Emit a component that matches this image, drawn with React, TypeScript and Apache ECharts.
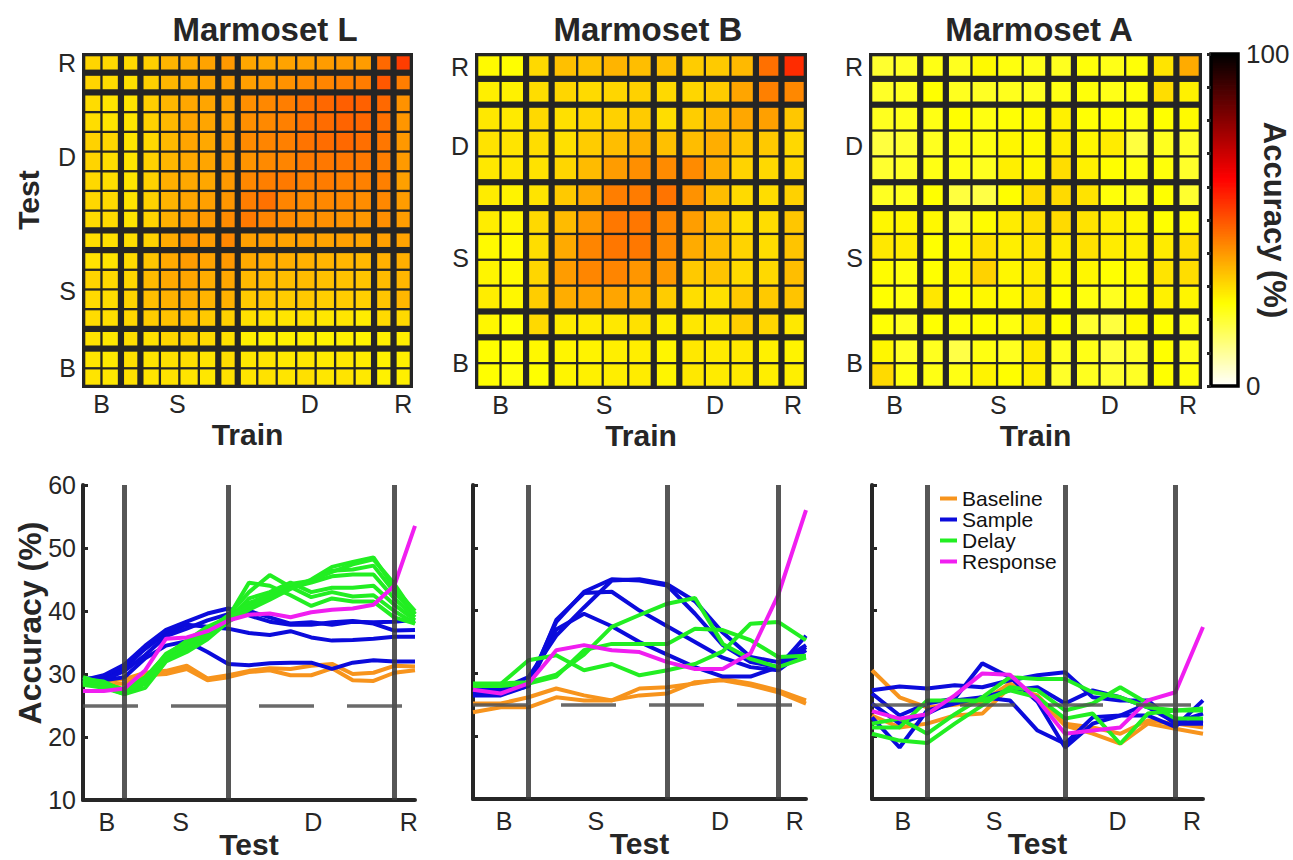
import React, { useEffect, useRef } from 'react';
import * as echarts from 'echarts';

// ---------- constants ----------
const FONT = '"Liberation Sans", Arial, Helvetica, sans-serif';
const INK = '#262626';
const HOT_COLORS = ['#ffffff', '#ffff80', '#ffff00', '#ffaa00', '#ff5500', '#ff0000', '#aa0000', '#550000', '#000000'];
const EPOCH_LABELS = ['B', 'S', 'D', 'R'];
const EPOCH_NAMES = ['Baseline', 'Sample', 'Delay', 'Response'];
const EPOCH_COLORS = ['#F7941D', '#0B0BDB', '#22EE22', '#F01EF0'];
const MONKEYS = ['Marmoset L', 'Marmoset B', 'Marmoset A'];
const CHANCE = 25;
const Y_MIN = 10;
const Y_MAX = 60;
const CBAR_MIN = 0;
const CBAR_MAX = 100;
const CBAR_STEP = 0.5;

const TRANS_L = [2, 7, 15];
const TRANS_BA = [2, 7, 11];
const HEAT_LABEL_POS_L = [0.5, 4.4, 11.2, 16];
const HEAT_LABEL_POS_BA = [0.5, 4.55, 8.9, 11.95];
const LINE_LABEL_POS_L = [1.15, 4.7, 11.1, 15.7];
const LINE_LABEL_POS_BA = [1.12, 4.43, 8.9, 11.6];

// ---------- data: accuracy (%) per train time (one array each), across test times ----------
// Marmoset L (17 time bins)
const L_B1 = [29.0, 28.8, 29.2, 30.2, 30.5, 31.3, 29.3, 29.8, 30.5, 30.9, 30.8, 31.3, 31.6, 30.0, 30.2, 31.3, 31.2];
const L_B2 = [28.5, 28.3, 28.5, 29.8, 30.0, 30.8, 29.0, 29.5, 30.3, 30.6, 29.8, 29.8, 30.9, 29.0, 28.9, 30.2, 30.6];
const L_T1 = [29.5, 29.5, 30.0, 31.0, 31.5, 31.0, 30.5, 30.0, 29.0, 29.0, 28.8, 28.8, 28.8, 28.8, 29.0, 29.5, 30.5];
const L_S1 = [28.8, 29.0, 29.5, 32.5, 34.5, 35.2, 33.5, 31.6, 31.4, 31.7, 31.8, 31.8, 30.8, 31.8, 32.2, 32.0, 32.0];
const L_S2 = [29.2, 29.5, 31.0, 34.0, 36.5, 37.8, 37.5, 37.2, 36.5, 36.2, 36.8, 35.8, 35.3, 35.4, 35.6, 35.9, 35.9];
const L_S3 = [29.0, 29.8, 31.5, 34.5, 37.0, 38.3, 39.6, 40.4, 39.3, 38.3, 37.8, 37.8, 38.2, 38.4, 38.0, 36.9, 37.0];
const L_S4 = [28.5, 29.0, 30.5, 33.0, 36.0, 37.2, 38.5, 39.5, 40.0, 39.0, 38.0, 38.2, 37.8, 38.3, 38.2, 38.3, 38.6];
const L_T2 = [29.5, 30.0, 29.5, 32.0, 36.5, 38.0, 40.0, 42.5, 42.0, 40.5, 40.0, 39.5, 39.5, 39.0, 39.0, 39.0, 40.0];
const L_D1 = [29.0, 28.5, 27.5, 29.5, 33.0, 35.3, 37.5, 39.0, 44.5, 44.0, 42.5, 40.8, 42.0, 41.5, 41.5, 39.0, 38.0];
const L_D2 = [29.2, 28.8, 27.2, 29.2, 33.2, 35.0, 37.0, 39.3, 43.0, 45.7, 43.8, 42.2, 43.0, 42.3, 42.5, 40.0, 38.0];
const L_D3 = [28.8, 28.2, 27.0, 28.8, 32.5, 34.5, 36.8, 38.5, 42.0, 43.0, 44.5, 43.0, 43.7, 43.7, 44.0, 41.0, 38.5];
const L_D4 = [29.5, 28.5, 27.5, 29.3, 33.0, 34.8, 36.5, 39.0, 41.2, 42.2, 43.7, 44.5, 45.5, 45.8, 45.8, 42.0, 39.0];
const L_D5 = [28.6, 28.0, 26.8, 28.5, 32.2, 34.2, 36.0, 38.6, 41.3, 42.5, 44.3, 44.8, 46.4, 46.6, 47.2, 43.0, 39.5];
const L_D6 = [29.0, 28.4, 27.2, 28.8, 32.5, 34.0, 35.8, 39.0, 40.7, 42.3, 43.6, 45.0, 47.0, 47.8, 48.5, 43.7, 40.0];
const L_D7 = [28.3, 27.8, 26.8, 27.8, 32.0, 33.5, 35.5, 38.3, 40.2, 41.8, 43.5, 44.8, 46.2, 47.4, 48.2, 44.3, 39.5];
const L_T3 = [27.0, 27.0, 27.5, 30.5, 33.5, 35.0, 36.6, 39.0, 41.5, 42.5, 43.7, 44.0, 45.0, 46.0, 47.0, 49.5, 47.0];
const L_R1 = [27.3, 27.3, 27.7, 30.6, 35.6, 35.8, 36.8, 38.5, 39.4, 39.6, 39.0, 39.8, 40.2, 40.4, 41.0, 44.0, 53.5];

// Marmoset B (13 time bins)
const B_B1 = [25.2, 25.2, 26.2, 27.6, 26.5, 25.7, 27.6, 27.8, 28.4, 29.1, 28.4, 27.3, 25.7];
const B_B2 = [23.8, 24.6, 24.6, 26.2, 25.7, 25.7, 26.5, 26.8, 28.6, 28.9, 28.1, 27.0, 25.2];
const B_T1 = [25.0, 26.0, 30.6, 32.3, 31.0, 30.0, 30.6, 29.0, 29.2, 30.0, 30.6, 30.0, 30.6];
const B_S1 = [26.5, 26.5, 28.0, 37.0, 39.5, 37.5, 35.0, 33.0, 31.0, 29.5, 29.5, 31.0, 34.2];
const B_S2 = [27.0, 26.8, 28.0, 38.5, 42.8, 43.0, 40.0, 37.5, 35.0, 32.5, 31.0, 30.5, 33.7];
const B_S3 = [27.5, 27.3, 28.4, 38.2, 43.0, 45.0, 44.8, 44.0, 39.5, 34.5, 31.8, 31.0, 36.0];
const B_S4 = [27.8, 27.5, 29.4, 36.0, 40.5, 44.8, 45.0, 44.2, 41.5, 36.5, 32.6, 31.8, 34.5];
const B_T2 = [26.5, 26.5, 27.5, 32.5, 40.0, 42.0, 42.5, 45.5, 42.0, 34.3, 30.0, 30.6, 34.3];
const B_D1 = [28.4, 28.4, 28.6, 29.8, 33.0, 37.4, 39.3, 41.1, 42.0, 34.7, 32.3, 31.0, 32.5];
const B_D2 = [28.0, 28.0, 28.4, 29.5, 33.7, 34.7, 34.7, 34.7, 37.1, 36.9, 35.3, 32.6, 32.8];
const B_D3 = [28.3, 28.3, 32.1, 32.9, 30.5, 31.5, 29.7, 30.5, 31.5, 33.5, 37.9, 38.2, 35.3];
const B_T3 = [27.5, 27.0, 31.0, 33.0, 30.6, 30.0, 30.0, 30.0, 30.6, 33.0, 39.0, 43.7, 46.0];
const B_R1 = [27.4, 26.8, 28.4, 33.7, 34.5, 33.7, 33.4, 31.8, 30.7, 30.7, 33.2, 42.5, 56.0];

// Marmoset A (13 time bins)
const A_B1 = [30.5, 26.2, 24.6, 25.0, 25.5, 28.4, 26.2, 21.7, 20.4, 18.8, 22.0, 21.2, 20.4];
const A_B2 = [23.3, 21.4, 22.0, 23.3, 23.6, 27.8, 26.5, 22.0, 21.4, 20.4, 22.5, 22.0, 21.4];
const A_T1 = [23.0, 22.0, 25.0, 28.5, 25.0, 25.0, 26.0, 25.0, 23.0, 22.0, 23.0, 25.0, 23.0];
const A_S1 = [23.0, 18.2, 24.1, 25.2, 26.2, 25.7, 20.9, 18.8, 23.0, 23.3, 25.2, 22.0, 22.0];
const A_S2 = [26.8, 23.3, 25.2, 26.0, 31.6, 29.4, 25.5, 18.2, 22.0, 23.3, 23.3, 21.5, 25.7];
const A_S3 = [25.2, 22.0, 23.6, 25.7, 26.2, 27.3, 27.8, 25.2, 27.3, 26.2, 24.6, 22.2, 23.6];
const A_S4 = [27.3, 27.9, 27.6, 28.1, 27.8, 28.9, 29.7, 30.2, 26.2, 25.7, 25.7, 22.0, 22.5];
const A_T2 = [21.0, 22.0, 25.0, 25.0, 26.0, 28.0, 30.5, 30.5, 30.0, 27.5, 27.0, 23.0, 22.0];
const A_D1 = [22.0, 22.8, 20.4, 23.5, 26.2, 29.4, 29.1, 29.1, 27.0, 26.2, 24.6, 24.1, 24.1];
const A_D2 = [20.4, 19.3, 18.9, 22.0, 24.9, 27.8, 27.3, 24.1, 25.2, 27.8, 25.2, 22.8, 22.8];
const A_D3 = [21.4, 21.4, 25.7, 25.7, 25.7, 27.3, 26.2, 22.8, 23.6, 18.8, 23.6, 24.1, 24.4];
const A_T3 = [25.0, 25.0, 25.0, 27.0, 29.0, 28.0, 25.0, 25.0, 24.0, 22.0, 25.0, 30.0, 29.0];
const A_R1 = [24.0, 22.8, 23.5, 26.5, 30.0, 29.8, 25.8, 20.4, 20.9, 21.4, 25.7, 27.0, 37.4];

// rows in train order (heatmap uses all; line plots use epoch rows only)
const L_ROWS = [L_B1, L_B2, L_T1, L_S1, L_S2, L_S3, L_S4, L_T2, L_D1, L_D2, L_D3, L_D4, L_D5, L_D6, L_D7, L_T3, L_R1];
const B_ROWS = [B_B1, B_B2, B_T1, B_S1, B_S2, B_S3, B_S4, B_T2, B_D1, B_D2, B_D3, B_T3, B_R1];
const A_ROWS = [A_B1, A_B2, A_T1, A_S1, A_S2, A_S3, A_S4, A_T2, A_D1, A_D2, A_D3, A_T3, A_R1];

const L_LINES = [[L_B1, L_B2], [L_S1, L_S2, L_S3, L_S4], [L_D1, L_D2, L_D3, L_D4, L_D5, L_D6, L_D7], [L_R1]];
const B_LINES = [[B_B1, B_B2], [B_S1, B_S2, B_S3, B_S4], [B_D1, B_D2, B_D3], [B_R1]];
const A_LINES = [[A_B1, A_B2], [A_S1, A_S2, A_S3, A_S4], [A_D1, A_D2, A_D3], [A_R1]];

// ---------- layout ----------
const HEAT_GRIDS = [
  { left: 82, top: 53, width: 331, height: 335 },
  { left: 475, top: 53, width: 332, height: 336 },
  { left: 869, top: 53, width: 333, height: 336 },
];
const LINE_GRIDS = [
  { left: 83, top: 485, width: 332, height: 315 },
  { left: 473, top: 485, width: 333, height: 314 },
  { left: 872, top: 485, width: 331, height: 314 },
];
const CBAR_GRID = { left: 1211, top: 54, width: 27, height: 332 };
const TITLE_X = [260, 643, 1034];

const THIN = 1.15;
const THICK = 3.1;
const EDGE = 3.3;

function heatRenderer(n: number, trans: number[]) {
  const isThick = (a: number, b: number) => trans.indexOf(a) >= 0 || trans.indexOf(b) >= 0;
  const inset = (a: number, b: number) => (a < 0 || b >= n ? EDGE : isThick(a, b) ? THICK : THIN);
  return (_params: any, api: any) => {
    const i = api.value(0);
    const j = api.value(1);
    const tl = api.coord([i - 0.5, j + 0.5]);
    const br = api.coord([i + 0.5, j - 0.5]);
    const l = inset(i - 1, i);
    const r = inset(i, i + 1);
    const b = inset(j - 1, j);
    const t = inset(j, j + 1);
    return {
      type: 'rect',
      shape: { x: tl[0] + l, y: tl[1] + t, width: br[0] - tl[0] - l - r, height: br[1] - tl[1] - t - b },
      style: { fill: api.visual('color') },
    };
  };
}

function heatData(rows: number[][]) {
  const out: number[][] = [];
  rows.forEach((r, i) => r.forEach((v, j) => out.push([i, j, v])));
  return out;
}

function labelFormatter(pos: number[]) {
  return (v: number) => {
    const k = pos.findIndex((p) => Math.abs(p - v) < 1e-6);
    return k >= 0 ? EPOCH_LABELS[k] : '';
  };
}

function buildOption() {
  const rowsAll = [L_ROWS, B_ROWS, A_ROWS];
  const transAll = [TRANS_L, TRANS_BA, TRANS_BA];
  const heatPos = [HEAT_LABEL_POS_L, HEAT_LABEL_POS_BA, HEAT_LABEL_POS_BA];
  const linePos = [LINE_LABEL_POS_L, LINE_LABEL_POS_BA, LINE_LABEL_POS_BA];
  const linesAll = [L_LINES, B_LINES, A_LINES];

  const grid: any[] = [];
  const xAxis: any[] = [];
  const yAxis: any[] = [];
  const series: any[] = [];
  const mapped: number[] = [];
  const tickFont = { fontSize: 25, color: INK, fontFamily: FONT };
  const nameFont = { fontSize: 30, fontWeight: 'bold', color: INK, fontFamily: FONT };
  const gridBase = { containLabel: false, outerBoundsMode: 'none' };

  // heatmaps (grid 0..2)
  for (let k = 0; k < 3; k++) {
    const n = rowsAll[k].length;
    grid.push({ ...HEAT_GRIDS[k], ...gridBase, show: true, backgroundColor: '#252525', borderWidth: 0 });
    xAxis.push({
      gridIndex: k, type: 'value', min: -0.5, max: n - 0.5,
      axisLine: { show: false }, axisTick: { show: false }, splitLine: { show: false },
      axisLabel: { ...tickFont, margin: 3, customValues: heatPos[k], formatter: labelFormatter(heatPos[k]) },
      name: 'Train', nameLocation: 'middle', nameGap: 31, nameTextStyle: nameFont,
    });
    yAxis.push({
      gridIndex: k, type: 'value', min: -0.5, max: n - 0.5,
      axisLine: { show: false }, axisTick: { show: false }, splitLine: { show: false },
      axisLabel: { ...tickFont, margin: 6, customValues: heatPos[k], formatter: labelFormatter(heatPos[k]) },
    });
    mapped.push(series.length);
    series.push({
      type: 'custom', name: MONKEYS[k] + ' heatmap', xAxisIndex: k, yAxisIndex: k,
      renderItem: heatRenderer(n, transAll[k]), data: heatData(rowsAll[k]),
      encode: { x: 0, y: 1 }, silent: true, z: 2,
    });
  }

  // line plots (grid 3..5)
  for (let k = 0; k < 3; k++) {
    const g = 3 + k;
    const n = rowsAll[k].length;
    grid.push({ ...LINE_GRIDS[k], ...gridBase, show: false });
    xAxis.push({
      gridIndex: g, type: 'value', min: 0, max: n - 1,
      axisLine: { show: true, onZero: false, lineStyle: { color: INK, width: 4 } },
      axisTick: { show: false }, splitLine: { show: false },
      axisLabel: { ...tickFont, margin: 9, customValues: linePos[k], formatter: labelFormatter(linePos[k]) },
      name: 'Test', nameLocation: 'middle', nameGap: 29, nameMoveOverlap: false,
      nameTextStyle: { ...nameFont, fontSize: 30, lineHeight: 30 },
    });
    yAxis.push({
      gridIndex: g, type: 'value', min: Y_MIN, max: Y_MAX, interval: 10,
      axisLine: { show: true, onZero: false, lineStyle: { color: INK, width: 4 } },
      axisTick: { show: true, inside: true, length: 5, lineStyle: { color: INK, width: 3 } },
      splitLine: { show: false },
      axisLabel: { ...tickFont, show: k === 0, margin: 7 },
    });
    linesAll[k].forEach((group, e) => {
      group.forEach((row) => {
        series.push({
          type: 'line', name: EPOCH_NAMES[e], xAxisIndex: g, yAxisIndex: g,
          data: row.map((v, j) => [j, v]),
          symbol: 'none', showSymbol: false, silent: true, z: 2,
          lineStyle: { width: 4, color: EPOCH_COLORS[e] },
          itemStyle: { color: EPOCH_COLORS[e] },
        });
      });
    });
    series.push({
      type: 'line', name: 'markers-' + k, xAxisIndex: g, yAxisIndex: g, data: [], z: 5, silent: true,
      markLine: {
        silent: true, symbol: ['none', 'none'], label: { show: false }, animation: false,
        data: [
          ...transAll[k].map((t) => ({ xAxis: t, lineStyle: { color: '#383838', width: 5, type: 'solid', opacity: 0.85 } })),
          { yAxis: CHANCE, lineStyle: { color: '#505050', width: 3.5, type: [55, 33], opacity: 0.85 } },
        ],
      },
    });
  }

  // colorbar (grid 6): strips coloured by the same visualMap, then a black frame
  grid.push({ ...CBAR_GRID, ...gridBase, show: false });
  xAxis.push({ gridIndex: 6, type: 'value', min: 0, max: 1, show: false });
  yAxis.push({
    gridIndex: 6, type: 'value', min: CBAR_MIN, max: CBAR_MAX, interval: 10, position: 'right', z: 10,
    axisLine: { show: false }, splitLine: { show: false },
    axisTick: { show: true, inside: true, length: 4, lineStyle: { color: INK, width: 3 } },
    axisLabel: { fontSize: 26, color: INK, fontFamily: FONT, margin: 8, customValues: [CBAR_MIN, CBAR_MAX] },
  });
  const stripData: number[][] = [];
  for (let v = CBAR_MIN; v < CBAR_MAX; v += CBAR_STEP) stripData.push([0, v, v + CBAR_STEP / 2]);
  mapped.push(series.length);
  series.push({
    type: 'custom', name: 'colorbar', xAxisIndex: 6, yAxisIndex: 6, silent: true, z: 2,
    data: stripData, encode: { x: 0, y: 1 },
    renderItem: (_p: any, api: any) => {
      const v = api.value(1);
      const tl = api.coord([0, v + CBAR_STEP]);
      const br = api.coord([1, v]);
      return {
        type: 'rect',
        shape: { x: tl[0], y: tl[1] - 0.4, width: br[0] - tl[0], height: br[1] - tl[1] + 0.8 },
        style: { fill: api.visual('color') },
      };
    },
  });
  series.push({
    type: 'custom', name: 'colorbar-frame', xAxisIndex: 6, yAxisIndex: 6, silent: true, z: 4,
    data: [[0, CBAR_MIN]],
    renderItem: (_p: any, api: any) => {
      const tl = api.coord([0, CBAR_MAX]);
      const br = api.coord([1, CBAR_MIN]);
      return {
        type: 'rect',
        shape: { x: tl[0], y: tl[1], width: br[0] - tl[0], height: br[1] - tl[1] },
        style: { fill: 'none', stroke: '#000', lineWidth: 3.5 },
      };
    },
  });

  return {
    animation: false,
    backgroundColor: '#ffffff',
    textStyle: { fontFamily: FONT },
    title: MONKEYS.map((m, k) => ({
      text: m, left: TITLE_X[k], top: 8, textAlign: 'center',
      textStyle: { fontSize: 33, fontWeight: 'bold', color: INK, fontFamily: FONT },
    })),
    legend: {
      data: EPOCH_NAMES, orient: 'vertical', left: 935, top: 483,
      itemWidth: 17, itemHeight: 4, itemGap: 0, icon: 'rect', selectedMode: false,
      textStyle: { fontSize: 21, color: '#111', fontFamily: FONT, lineHeight: 21 },
    },
    visualMap: {
      type: 'continuous', show: false, min: CBAR_MIN, max: CBAR_MAX, dimension: 2,
      seriesIndex: mapped, inRange: { color: HOT_COLORS },
    },
    grid, xAxis, yAxis, series,
    graphic: [
      {
        type: 'text', x: 28, y: 200, rotation: Math.PI / 2,
        style: { text: 'Test', fontSize: 30, fontWeight: 'bold', fontFamily: FONT, fill: INK, align: 'center', verticalAlign: 'middle' },
      },
      {
        type: 'text', x: 30, y: 623, rotation: Math.PI / 2,
        style: { text: 'Accuracy (%)', fontSize: 32, fontWeight: 'bold', fontFamily: FONT, fill: INK, align: 'center', verticalAlign: 'middle' },
      },
      {
        type: 'text', x: 1274, y: 220, rotation: -Math.PI / 2,
        style: { text: 'Accuracy (%)', fontSize: 31, fontWeight: 'bold', fontFamily: FONT, fill: INK, align: 'center', verticalAlign: 'middle' },
      },
    ],
  };
}

export default function App() {
  const ref = useRef<HTMLDivElement>(null);
  useEffect(() => {
    if (!ref.current) return;
    const chart = echarts.init(ref.current, undefined, { renderer: 'svg' });
    chart.setOption(buildOption() as any);
    return () => chart.dispose();
  }, []);
  return (
    <div
      ref={ref}
      style={{ position: 'absolute', left: 0, top: 0, width: 1293, height: 860, background: '#fff' }}
    />
  );
}
